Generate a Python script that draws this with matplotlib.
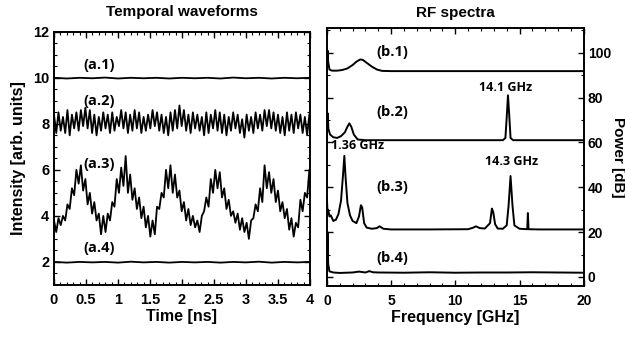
import numpy as np
import matplotlib
matplotlib.use("Agg")
import matplotlib.pyplot as plt
from matplotlib.ticker import MultipleLocator

# ---- temporal waveforms (intensity, arb. units) ----
dt_ns = 0.035  # sample spacing of the traced waveforms

a1 = [10.0, 9.97, 10.0, 9.98, 10.01, 9.97, 10.0, 9.98, 10.0, 9.97, 10.0,
      9.98, 10.0, 9.97, 10.01, 9.98, 10.0, 9.97, 10.0, 9.98, 10.0]

a2 = [8.4, 7.6, 8.5, 7.7, 8.3, 7.6, 8.6, 7.5, 8.4, 7.8, 8.5, 7.7, 8.6, 7.9, 8.7,
      7.8, 8.6, 7.6, 8.4, 7.5, 8.3, 7.7, 8.5, 7.8, 8.4, 7.6, 8.5, 7.7, 8.3, 7.9,
      8.6, 7.8, 8.5, 7.6, 8.4, 7.7, 8.6, 7.8, 8.5, 7.6, 8.3, 7.7, 8.4, 7.8, 8.6,
      7.9, 8.5, 7.7, 8.4, 7.6, 8.3, 7.5, 8.5, 7.7, 8.6, 7.8, 8.8, 7.9, 8.6, 7.7,
      8.4, 7.6, 8.5, 7.8, 8.4, 7.7, 8.3, 7.5, 8.5, 7.6, 8.4, 7.8, 8.6, 7.7, 8.5,
      7.6, 8.4, 7.5, 8.3, 7.7, 8.5, 7.8, 8.4, 7.6, 8.2, 7.4, 8.4, 7.7, 8.3, 7.6,
      8.5, 7.8, 8.4, 7.7, 8.6, 7.9, 8.6, 7.8, 8.5, 7.7, 8.4, 7.6, 8.3, 7.5, 8.5,
      7.7, 8.4, 7.6, 8.5, 7.8, 8.4, 7.6, 8.3, 7.5, 8.4]

a3 = [3.8, 3.3, 3.9, 3.6, 4.0, 3.8, 4.5, 4.3, 5.2, 4.9, 6.0, 5.4, 6.2, 5.1, 5.6,
      4.5, 5.0, 4.1, 4.6, 3.8, 4.1, 3.2, 4.0, 3.3, 4.1, 3.8, 4.6, 4.4, 5.6, 5.0,
      6.1, 5.3, 6.6, 5.0, 5.8, 4.7, 5.2, 4.3, 4.8, 3.9, 4.4, 3.5, 4.0, 3.1, 3.8,
      3.2, 4.4, 4.3, 5.0, 4.8, 6.0, 5.2, 6.2, 5.0, 5.8, 4.8, 5.1, 4.2, 4.6, 3.8,
      4.3, 3.6, 4.0, 3.5, 3.8, 3.3, 4.0, 4.2, 4.8, 4.4, 5.6, 5.0, 6.0, 5.2, 5.9,
      4.8, 5.2, 4.3, 4.7, 4.0, 4.2, 3.7, 4.1, 3.4, 3.9, 3.3, 3.7, 3.0, 3.8, 3.9,
      4.5, 4.2, 5.2, 4.6, 6.2, 5.2, 5.9, 5.0, 5.6, 4.6, 5.1, 4.2, 4.6, 3.9, 4.3,
      3.4, 3.9, 3.1, 3.7, 3.5, 4.7, 4.2, 5.0, 4.8, 6.0]

a4 = [2.0, 1.97, 2.0, 1.98, 2.0, 1.97, 2.01, 1.98, 2.0, 1.97, 2.0,
      1.98, 2.0, 1.97, 2.0, 1.98, 2.01, 1.97, 2.0, 1.98, 2.0]

# ---- RF spectra (frequency GHz, power dB) ----
b1_f = [0, 0.05, 0.1, 0.2, 0.4, 0.8, 1.2, 1.6, 2.0, 2.3, 2.6, 2.8, 3.1, 3.5,
        3.9, 4.3, 5, 8, 11, 14, 17, 20]
b1_db = [92, 101, 96, 92.5, 92, 92, 92.3, 93, 94.5, 96, 97, 96.8, 95.5, 93.8,
         92.5, 91.9, 91.8, 91.8, 91.8, 91.8, 91.8, 91.8]

b2_f = [0, 0.06, 0.12, 0.25, 0.5, 0.8, 1.1, 1.4, 1.6, 1.75, 1.9, 2.1, 2.4, 3,
        8, 13.7, 13.9, 14.0, 14.1, 14.2, 14.3, 14.5, 20]
b2_db = [62, 73, 66, 63.5, 62.3, 62, 62.8, 64.5, 67, 68.5, 67, 63.5, 61.3, 61,
         61, 61, 62, 71, 81, 72, 62, 61, 61]

b3_f = [0, 0.05, 0.1, 0.2, 0.3, 0.5, 0.7, 0.9, 1.1, 1.25, 1.36, 1.45, 1.6, 1.8,
        2.0, 2.3, 2.5, 2.65, 2.75, 2.9, 3.1, 3.5, 3.9, 4.1, 4.4, 5, 8, 11, 11.4,
        11.6, 11.9, 12.3, 12.7, 12.85, 12.95, 13.1, 13.3, 13.7, 14.0, 14.15,
        14.3, 14.45, 14.6, 15.0, 15.6, 15.65, 15.7, 16.5, 20]
b3_db = [36, 28, 30, 27, 27.5, 25, 25.5, 28, 34, 45, 54, 45, 33, 27.5, 25, 24,
         27, 32, 31, 24, 22, 21.5, 21.8, 22.6, 21.5, 21.2, 21.2, 21.3, 22, 22.6,
         21.8, 21.6, 24, 30.5, 29, 23.5, 21.6, 21.5, 23, 32, 45, 32, 23, 21.5,
         21.3, 28.5, 21.3, 21.2, 21.2]

b4_f = [0, 0.05, 0.1, 0.2, 0.5, 1, 2, 2.5, 3, 3.3, 3.6, 4, 6, 8, 10, 12, 14,
        16, 18, 20]
b4_db = [3, 20, 6, 2.5, 2, 1.8, 2, 2.4, 2.0, 2.6, 2.1, 2.0, 1.9, 2.1, 1.9, 2.0,
         2.0, 2.1, 2.0, 1.9]

AX_FONT = "Liberation Sans"
ANN_FONT = "Open Sans"


def style_axes(ax, size=10.5):
    ax.tick_params(which="both", direction="in", top=True, right=True)
    ax.tick_params(which="major", length=4, width=1)
    ax.tick_params(which="minor", length=2, width=0.8)
    ax.tick_params(axis="x", which="major", pad=6)
    for sp in ax.spines.values():
        sp.set_linewidth(1.4)
    for lbl in ax.get_xticklabels() + ax.get_yticklabels():
        lbl.set_fontfamily(AX_FONT)
        lbl.set_fontweight("bold")
        lbl.set_fontsize(size)


fig = plt.figure(figsize=(6.25, 3.38), dpi=100)

# left panel: temporal waveforms
ax1 = fig.add_axes([0.0864, 0.157, 0.4096, 0.749])
for wave, step in ((a1, 0.2), (a2, dt_ns), (a3, dt_ns), (a4, 0.2)):
    t = np.arange(len(wave)) * step
    ax1.plot(t, wave, color="black", lw=1.3)
ax1.set_xlim(0, 4)
ax1.set_ylim(1, 12)
ax1.xaxis.set_major_locator(MultipleLocator(0.5))
ax1.xaxis.set_minor_locator(MultipleLocator(0.1))
ax1.yaxis.set_major_locator(MultipleLocator(2))
ax1.yaxis.set_minor_locator(MultipleLocator(0.5))
ax1.xaxis.set_major_formatter(plt.FuncFormatter(lambda v, p: f"{v:g}"))
style_axes(ax1)
ax1.set_xlabel("Time [ns]", fontfamily=AX_FONT, fontweight="bold",
               fontsize=11.5, labelpad=1)
ax1.set_ylabel("Intensity [arb. units]", fontfamily=AX_FONT,
               fontweight="bold", fontsize=11.5, labelpad=5)
ax1.set_title("Temporal waveforms", fontfamily=AX_FONT, fontweight="bold",
              fontsize=11, pad=11)
for lab, yv in (("(a.1)", 10.55), ("(a.2)", 9.0), ("(a.3)", 6.25), ("(a.4)", 2.6)):
    ax1.text(0.7, yv, lab, fontfamily=ANN_FONT, fontweight="bold",
             fontsize=10.5, ha="center", va="center")

# right panel: RF spectra
ax2 = fig.add_axes([0.523, 0.154, 0.411, 0.763])
for f, db in ((b1_f, b1_db), (b2_f, b2_db), (b3_f, b3_db), (b4_f, b4_db)):
    ax2.plot(f, db, color="black", lw=1.4)
ax2.set_xlim(0, 20)
ax2.set_ylim(-4, 111)
ax2.xaxis.set_major_locator(MultipleLocator(5))
ax2.xaxis.set_minor_locator(MultipleLocator(1))
ax2.yaxis.set_major_locator(MultipleLocator(20))
ax2.yaxis.set_minor_locator(MultipleLocator(10))
ax2.tick_params(labelleft=False, labelright=True)
ax2.tick_params(axis="y", which="major", pad=3)
style_axes(ax2, size=10)
ax2.yaxis.set_label_position("right")
ax2.set_xlabel("Frequency [GHz]", fontfamily=AX_FONT, fontweight="bold",
               fontsize=11.5, labelpad=1)
ax2.set_ylabel("Power [dB]", fontfamily=AX_FONT, fontweight="bold",
               fontsize=11, rotation=-90, va="center")
ax2.yaxis.set_label_coords(1.135, 0.5)
ax2.set_title("RF spectra", fontfamily=AX_FONT, fontweight="bold",
              fontsize=11, pad=8)
for lab, yv in (("(b.1)", 100.5), ("(b.2)", 73.5), ("(b.3)", 40), ("(b.4)", 8.5)):
    ax2.text(5.1, yv, lab, fontfamily=ANN_FONT, fontweight="bold",
             fontsize=10.5, ha="center", va="center")
for lab, fx, yv in (("14.1 GHz", 13.9, 84.5), ("1.36 GHz", 2.4, 58.5),
                    ("14.3 GHz", 14.4, 51.5)):
    ax2.text(fx, yv, lab, fontfamily=ANN_FONT, fontweight="bold",
             fontsize=9, ha="center", va="center")

fig.savefig("out.png", dpi=100)
